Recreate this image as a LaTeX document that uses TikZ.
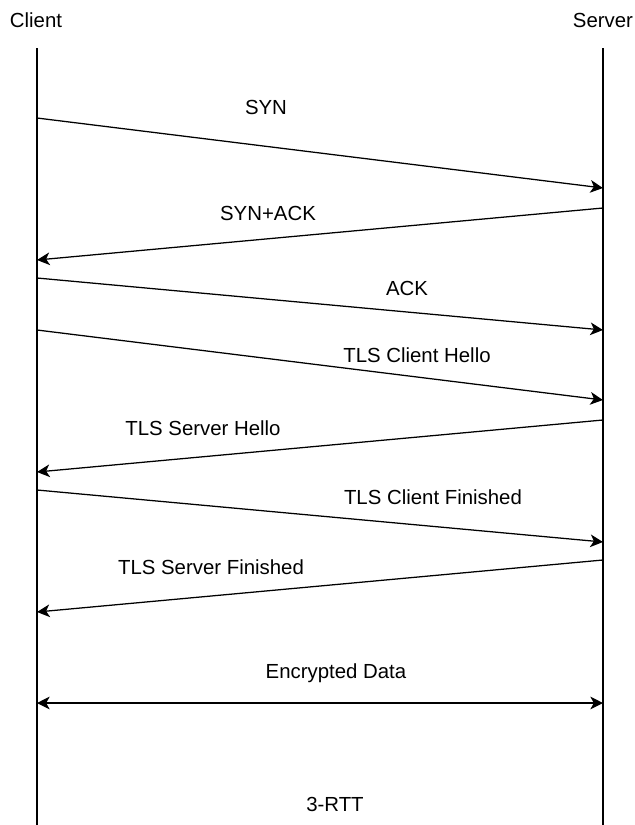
\documentclass[tikz,border=0pt]{standalone}
\usepackage{fontspec}
\setmainfont{Liberation Sans}
\usepackage{tikz}
\usetikzlibrary{arrows.meta}

\begin{document}
\begin{tikzpicture}[x=0.025cm, y=-0.025cm, line width=0.9pt,
    msg/.style={arrows = {-Stealth[width=9pt, length=9pt, inset=2.5pt]}},
    lbl/.style={font=\fontsize{14.5}{17}\selectfont, inner sep=0pt}]
\useasboundingbox (0, 0) rectangle (634, 825);

\node[lbl] (client) at (36, 20) {Client};
\node[lbl] (server) at (603, 20) {Server};

\coordinate (client_top) at (37, 48);
\coordinate (client_bot) at (37, 825);
\coordinate (server_top) at (603, 48);
\coordinate (server_bot) at (603, 825);
\draw (client_top) -- (client_bot);
\draw (server_top) -- (server_bot);

\coordinate (c_syn) at (37, 118);
\coordinate (s_syn) at (603, 188);
\coordinate (s_synack) at (603, 208);
\coordinate (c_synack) at (37, 260);
\coordinate (c_ack) at (37, 278);
\coordinate (s_ack) at (603, 330);
\coordinate (c_chello) at (37, 330);
\coordinate (s_chello) at (603, 400);
\coordinate (s_shello) at (603, 420);
\coordinate (c_shello) at (37, 472);
\coordinate (c_cfin) at (37, 490);
\coordinate (s_cfin) at (603, 542);
\coordinate (s_sfin) at (603, 560);
\coordinate (c_sfin) at (37, 612);
\coordinate (c_data) at (37, 703);
\coordinate (s_data) at (603, 703);

\draw[msg] (c_syn) -- (s_syn);
\draw[msg] (s_synack) -- (c_synack);
\draw[msg] (c_ack) -- (s_ack);
\draw[msg] (c_chello) -- (s_chello);
\draw[msg] (s_shello) -- (c_shello);
\draw[msg] (c_cfin) -- (s_cfin);
\draw[msg] (s_sfin) -- (c_sfin);
\draw[arrows = {Stealth[width=9pt, length=9pt, inset=2.5pt]-Stealth[width=9pt, length=9pt, inset=2.5pt]}] (c_data) -- (s_data);

\node[lbl] (syn_txt) at (266, 107) {SYN};
\node[lbl] (synack_txt) at (268, 213) {SYN+ACK};
\node[lbl] (ack_txt) at (407, 288) {ACK};
\node[lbl] (chello_txt) at (417, 355) {TLS Client Hello};
\node[lbl] (shello_txt) at (203, 428) {TLS Server Hello};
\node[lbl] (cfin_txt) at (433, 497) {TLS Client Finished};
\node[lbl] (sfin_txt) at (211, 567) {TLS Server Finished};
\node[lbl] (data_txt) at (336, 673) {Encrypted Data};
\node[lbl] (rtt_txt) at (335, 804) {3-RTT};
\end{tikzpicture}
\end{document}
